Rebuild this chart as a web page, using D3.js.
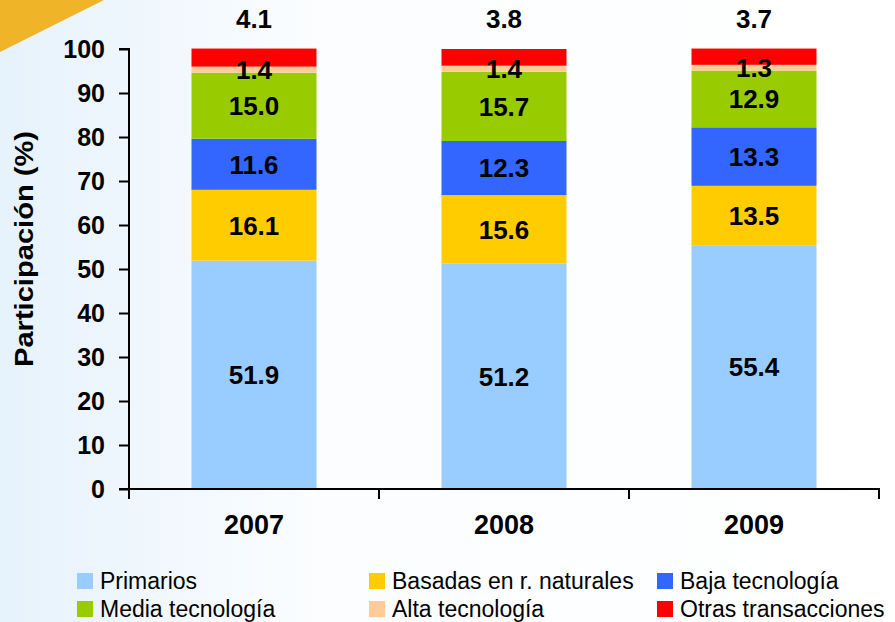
<!DOCTYPE html>
<html>
<head>
<meta charset="utf-8">
<script src="https://cdn.jsdelivr.net/npm/d3@7"></script>
<style>
  body { margin: 0; padding: 0; }
  svg { display: block; }
  text { font-family: "Liberation Sans", Arial, sans-serif; }
</style>
</head>
<body>
<div id="chart"></div>
<script>
const w = 895;
const h = 622;
const fuente = '"Liberation Sans", Arial, sans-serif';

const years = ['2007', '2008', '2009'];
const series = ['Primarios', 'Basadas en r. naturales', 'Baja tecnología', 'Media tecnología', 'Alta tecnología', 'Otras transacciones'];
const colors = ['#99ccff', '#ffcc00', '#3366ff', '#99cc00', '#ffcc99', '#ff0000'];
const primarios = [51.9, 51.2, 55.4];
const basadas = [16.1, 15.6, 13.5];
const baja = [11.6, 12.3, 13.3];
const media = [15.0, 15.7, 12.9];
const alta = [1.4, 1.4, 1.3];
const otras = [4.1, 3.8, 3.7];
const yTicks = [0, 10, 20, 30, 40, 50, 60, 70, 80, 90, 100];

const values = [primarios, basadas, baja, media, alta, otras];
const rows = years.map((y, i) => {
  let r = { year: y };
  series.forEach((s, k) => { r[s] = values[k][i]; });
  return r;
});

const svg = d3.select('#chart').append('svg')
  .attr('width', w)
  .attr('height', h);

// fondo
const defs = svg.append('defs');
const grad = defs.append('linearGradient').attr('id', 'bg')
  .attr('x1', '0%').attr('x2', '100%').attr('y1', '0%').attr('y2', '0%');
grad.append('stop').attr('offset', '0%').attr('stop-color', '#e6f2fc');
grad.append('stop').attr('offset', '35%').attr('stop-color', '#fbfdff');
grad.append('stop').attr('offset', '100%').attr('stop-color', '#ffffff');
svg.append('rect').attr('width', w).attr('height', h).attr('fill', 'url(#bg)');
svg.append('path')
  .attr('d', 'M0,0 L104,0 L0,52 Z')
  .attr('fill', '#f0b429');

const x = d3.scaleBand()
  .domain(years)
  .range([129, 879])
  .paddingInner(0.5)
  .paddingOuter(0.25);

const y = d3.scaleLinear()
  .domain([0, 100])
  .range([489, 49]);

const stack = d3.stack().keys(series)(rows);

// barras
svg.append('g').selectAll('g')
  .data(stack)
  .enter().append('g')
  .attr('fill', (d, i) => colors[i])
  .selectAll('rect')
  .data(d => d)
  .enter().append('rect')
  .attr('x', d => x(d.data.year))
  .attr('y', d => y(d[1]))
  .attr('width', x.bandwidth())
  .attr('height', d => y(d[0]) - y(d[1]));

// etiquetas
stack.forEach((layer, k) => {
  svg.append('g').selectAll('text')
    .data(layer)
    .enter().append('text')
    .attr('x', d => x(d.data.year) + x.bandwidth() / 2)
    .attr('y', d => k === 5 ? y(d[1]) - 30 : (y(d[0]) + y(d[1])) / 2)
    .attr('dy', '0.36em')
    .attr('text-anchor', 'middle')
    .attr('font-family', fuente)
    .attr('font-size', 26)
    .attr('font-weight', 'bold')
    .attr('fill', '#000')
    .text(d => values[k][years.indexOf(d.data.year)].toFixed(1));
});

// ejes
const yAxis = d3.axisLeft(y).tickValues(yTicks).tickSize(10).tickPadding(14);
const gy = svg.append('g')
  .attr('transform', 'translate(129,0)')
  .call(yAxis);
gy.select('.domain').attr('d', 'M-10,49H0V489').attr('stroke-width', 2);
gy.selectAll('.tick line').attr('stroke-width', 2);
gy.selectAll('.tick text')
  .attr('font-size', 25)
  .attr('font-weight', 'bold')
  .attr('font-family', fuente)
  .attr('fill', '#000');

const xAxis = d3.axisBottom(x).tickSize(0).tickPadding(26);
const gx = svg.append('g')
  .attr('transform', 'translate(0,489)')
  .call(xAxis);
gx.select('.domain').attr('d', 'M119,0H879V10').attr('stroke-width', 2);
gx.selectAll('.tick text')
  .attr('font-size', 27)
  .attr('font-weight', 'bold')
  .attr('font-family', fuente)
  .attr('fill', '#000');
// marcas entre categorias
gx.selectAll('.sep')
  .data([129, 379, 629])
  .enter().append('line')
  .attr('x1', d => d).attr('x2', d => d)
  .attr('y1', 0).attr('y2', 10)
  .attr('stroke', '#000').attr('stroke-width', 2);

svg.append('text')
  .attr('transform', 'translate(33,249) rotate(-90)')
  .attr('text-anchor', 'middle')
  .attr('font-family', fuente)
  .attr('font-size', 25)
  .attr('font-weight', 'bold')
  .attr('textLength', 236)
  .attr('lengthAdjust', 'spacingAndGlyphs')
  .text('Participación (%)');

// leyenda
const legX = [77, 369, 657];
const leg = svg.append('g').selectAll('g')
  .data(series)
  .enter().append('g')
  .attr('transform', (d, i) => 'translate(' + legX[i % 3] + ',' + (581 + Math.floor(i / 3) * 28) + ')');
leg.append('rect')
  .attr('x', 0).attr('y', -8)
  .attr('width', 16).attr('height', 16)
  .attr('fill', (d, i) => colors[i]);
leg.append('text')
  .attr('x', 23)
  .attr('dy', '0.36em')
  .attr('font-family', fuente)
  .attr('font-size', 23)
  .attr('fill', '#000')
  .text(d => d);
</script>
</body>
</html>
